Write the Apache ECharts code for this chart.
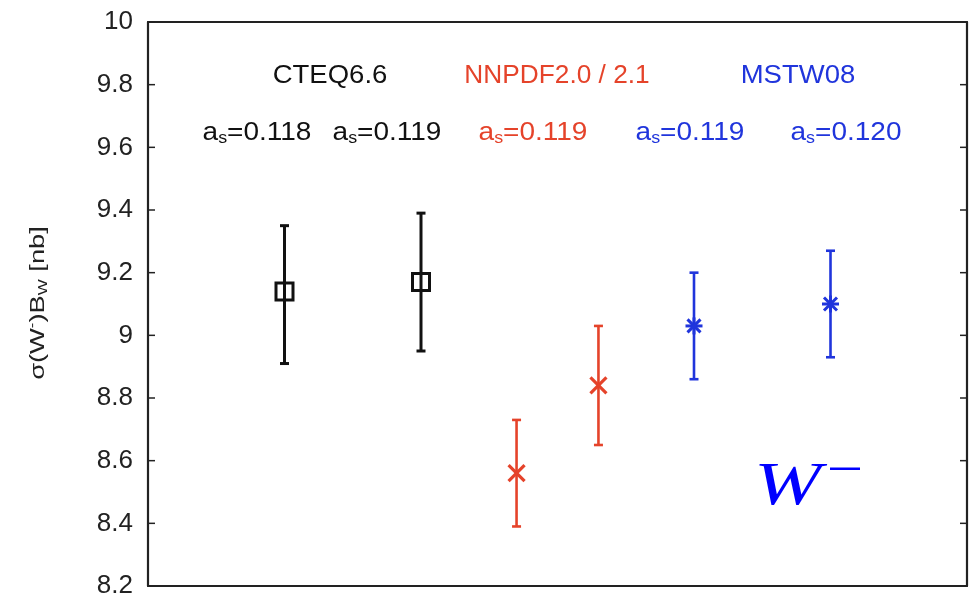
<!DOCTYPE html>
<html>
<head>
<meta charset="utf-8">
<script src="https://cdn.jsdelivr.net/npm/echarts@6/dist/echarts.min.js"></script>
<style>
  html, body { margin: 0; padding: 0; background: #fff; }
  #chart { width: 972px; height: 599px; }
</style>
</head>
<body>
<div id="chart"></div>
<script>
// W- cross section predictions for several PDF sets, with error bars
const yTicks = [8.2, 8.4, 8.6, 8.8, 9, 9.2, 9.4, 9.6, 9.8, 10];

const cteqX = [1, 2];
const cteqVal = [9.14, 9.17];
const cteqLo = [8.91, 8.95];
const cteqHi = [9.35, 9.39];

const nnpdfX = [2.7, 3.3];
const nnpdfVal = [8.56, 8.84];
const nnpdfLo = [8.39, 8.65];
const nnpdfHi = [8.73, 9.03];

const mstwX = [4, 5];
const mstwVal = [9.03, 9.10];
const mstwLo = [8.86, 8.93];
const mstwHi = [9.20, 9.27];

const groupNames = ['CTEQ6.6', 'NNPDF2.0 / 2.1', 'MSTW08'];
const alphaLabels = ['0.118', '0.119', '0.119', '0.119', '0.120'];

const BLACK = '#111111';
const RED = '#e5432a';
const BLUE = '#2035dc';
const FRAME = '#222222';

function rows(xs, vs, lo, hi) {
  return xs.map((x, i) => [x, vs[i], lo[i], hi[i]]);
}

function makeRender(color, marker, lw) {
  return function (params, api) {
    const x = api.value(0);
    const c = api.coord([x, api.value(1)]);
    const lo = api.coord([x, api.value(2)]);
    const hi = api.coord([x, api.value(3)]);
    const cap = 4.5;
    const st = { stroke: color, lineWidth: lw, fill: null };
    const kids = [
      { type: 'line', shape: { x1: lo[0], y1: lo[1], x2: hi[0], y2: hi[1] }, style: st },
      { type: 'line', shape: { x1: lo[0] - cap, y1: lo[1], x2: lo[0] + cap, y2: lo[1] }, style: st },
      { type: 'line', shape: { x1: hi[0] - cap, y1: hi[1], x2: hi[0] + cap, y2: hi[1] }, style: st }
    ];
    if (marker === 'square') {
      const s = 17;
      kids.push({ type: 'rect', shape: { x: c[0] - s / 2, y: c[1] - s / 2, width: s, height: s },
        style: { stroke: color, lineWidth: 3, fill: 'rgba(0,0,0,0)' } });
    } else if (marker === 'cross') {
      const s = 8;
      const ms = { stroke: color, lineWidth: 3.2 };
      kids.push({ type: 'line', shape: { x1: c[0] - s, y1: c[1] - s, x2: c[0] + s, y2: c[1] + s }, style: ms });
      kids.push({ type: 'line', shape: { x1: c[0] - s, y1: c[1] + s, x2: c[0] + s, y2: c[1] - s }, style: ms });
    } else {
      const s = 8.5;
      const d = 6.5;
      const ms = { stroke: color, lineWidth: 3 };
      kids.push({ type: 'line', shape: { x1: c[0], y1: c[1] - s, x2: c[0], y2: c[1] + s }, style: ms });
      kids.push({ type: 'line', shape: { x1: c[0] - s, y1: c[1], x2: c[0] + s, y2: c[1] }, style: ms });
      kids.push({ type: 'line', shape: { x1: c[0] - d, y1: c[1] - d, x2: c[0] + d, y2: c[1] + d }, style: ms });
      kids.push({ type: 'line', shape: { x1: c[0] - d, y1: c[1] + d, x2: c[0] + d, y2: c[1] - d }, style: ms });
    }
    return { type: 'group', children: kids };
  };
}

// inward tick marks on both the left and right frame edges
function renderTicks(params, api) {
  const cs = params.coordSys;
  const p = api.coord([0, api.value(0)]);
  const len = 7;
  const st = { stroke: FRAME, lineWidth: 1.5 };
  return {
    type: 'group',
    children: [
      { type: 'line', shape: { x1: cs.x, y1: p[1], x2: cs.x + len, y2: p[1] }, style: st },
      { type: 'line', shape: { x1: cs.x + cs.width, y1: p[1], x2: cs.x + cs.width - len, y2: p[1] }, style: st }
    ]
  };
}

const font = 'Liberation Sans, Arial, Helvetica, sans-serif';

function alphaText(val, color) {
  return {
    text: '{a|a}{s|s}{a|=' + val + '}',
    rich: {
      a: { fontSize: 25, fontFamily: font, fill: color, lineHeight: 28, verticalAlign: 'middle' },
      s: { fontSize: 16, fontFamily: font, fill: color, lineHeight: 16, verticalAlign: 'bottom', padding: [12, 0, 0, 0] }
    },
    align: 'center',
    verticalAlign: 'middle'
  };
}

function headText(txt, color) {
  return { text: txt, fontSize: 25, fontFamily: font, fill: color, align: 'center', verticalAlign: 'middle' };
}

const chart = echarts.init(document.getElementById('chart'));

const axisLineStyle = { show: true, onZero: false, lineStyle: { color: FRAME, width: 2.2 } };

chart.setOption({
  animation: false,
  backgroundColor: '#ffffff',
  grid: { left: 148, right: 5, top: 22, bottom: 11 },
  xAxis: [
    { type: 'value', min: 0, max: 6, position: 'bottom',
      axisLine: axisLineStyle, axisTick: { show: false }, axisLabel: { show: false }, splitLine: { show: false } },
    { type: 'value', min: 0, max: 6, position: 'top',
      axisLine: axisLineStyle, axisTick: { show: false }, axisLabel: { show: false }, splitLine: { show: false } }
  ],
  yAxis: [
    { type: 'value', min: 8.2, max: 10, interval: 0.2, position: 'left',
      axisLine: axisLineStyle,
      axisTick: { show: false },
      axisLabel: {
        margin: 15, fontSize: 26, color: '#222', fontFamily: font,
        formatter: function (v) {
          const t = yTicks.find(k => Math.abs(k - v) < 1e-6);
          return t === undefined ? '' : String(t);
        }
      },
      splitLine: { show: false }
    },
    { type: 'value', min: 8.2, max: 10, interval: 0.2, position: 'right',
      axisLine: axisLineStyle, axisTick: { show: false },
      axisLabel: { show: false }, splitLine: { show: false } }
  ],
  series: [
    { type: 'custom', name: 'ticks', renderItem: renderTicks, silent: true,
      data: yTicks.map(v => [v]), encode: { y: 0 }, z: 3 },
    { type: 'custom', name: 'CTEQ6.6', renderItem: makeRender(BLACK, 'square', 3),
      data: rows(cteqX, cteqVal, cteqLo, cteqHi), encode: { x: 0, y: [1, 2, 3] }, z: 5 },
    { type: 'custom', name: 'NNPDF', renderItem: makeRender(RED, 'cross', 2.6),
      data: rows(nnpdfX, nnpdfVal, nnpdfLo, nnpdfHi), encode: { x: 0, y: [1, 2, 3] }, z: 5 },
    { type: 'custom', name: 'MSTW08', renderItem: makeRender(BLUE, 'star', 2.6),
      data: rows(mstwX, mstwVal, mstwLo, mstwHi), encode: { x: 0, y: [1, 2, 3] }, z: 5 }
  ],
  graphic: [
    { type: 'text', x: 330, y: 76, scaleX: 1.1, style: headText(groupNames[0], BLACK) },
    { type: 'text', x: 557, y: 76, scaleX: 1.05, style: headText(groupNames[1], RED) },
    { type: 'text', x: 798, y: 76, scaleX: 1.1, style: headText(groupNames[2], BLUE) },
    { type: 'text', x: 257, y: 133, scaleX: 1.12, style: alphaText(alphaLabels[0], BLACK) },
    { type: 'text', x: 387, y: 133, scaleX: 1.12, style: alphaText(alphaLabels[1], BLACK) },
    { type: 'text', x: 533, y: 133, scaleX: 1.12, style: alphaText(alphaLabels[2], RED) },
    { type: 'text', x: 690, y: 133, scaleX: 1.12, style: alphaText(alphaLabels[3], BLUE) },
    { type: 'text', x: 846, y: 133, scaleX: 1.12, style: alphaText(alphaLabels[4], BLUE) },
    // vertical axis title
    { type: 'text', x: 38, y: 303, rotation: Math.PI / 2, scaleX: 1.3,
      style: {
        text: '{m|σ(W}{p|-}{m|)B}{w|W}{m| [nb]}',
        align: 'center', verticalAlign: 'middle',
        rich: {
          m: { fontSize: 21, fontFamily: font, fill: '#222', lineHeight: 24, verticalAlign: 'middle' },
          p: { fontSize: 13, fontFamily: font, fill: '#222', lineHeight: 13, verticalAlign: 'top', padding: [0, 0, 11, 0] },
          w: { fontSize: 13, fontFamily: font, fill: '#222', lineHeight: 13, verticalAlign: 'bottom', padding: [11, 0, 0, 0] }
        }
      } },
    // W- boson label
    { type: 'text', x: 754, y: 457, scaleX: 1.3,
      style: { text: 'W', fontSize: 62, fontStyle: 'italic', fontFamily: 'Liberation Serif, Times New Roman, serif', fill: '#0000ff', align: 'left', verticalAlign: 'top' } },
    { type: 'rect', shape: { x: 830, y: 467.5, width: 30, height: 2.5 }, style: { fill: '#0000ff' } }
  ]
});
</script>
</body>
</html>
